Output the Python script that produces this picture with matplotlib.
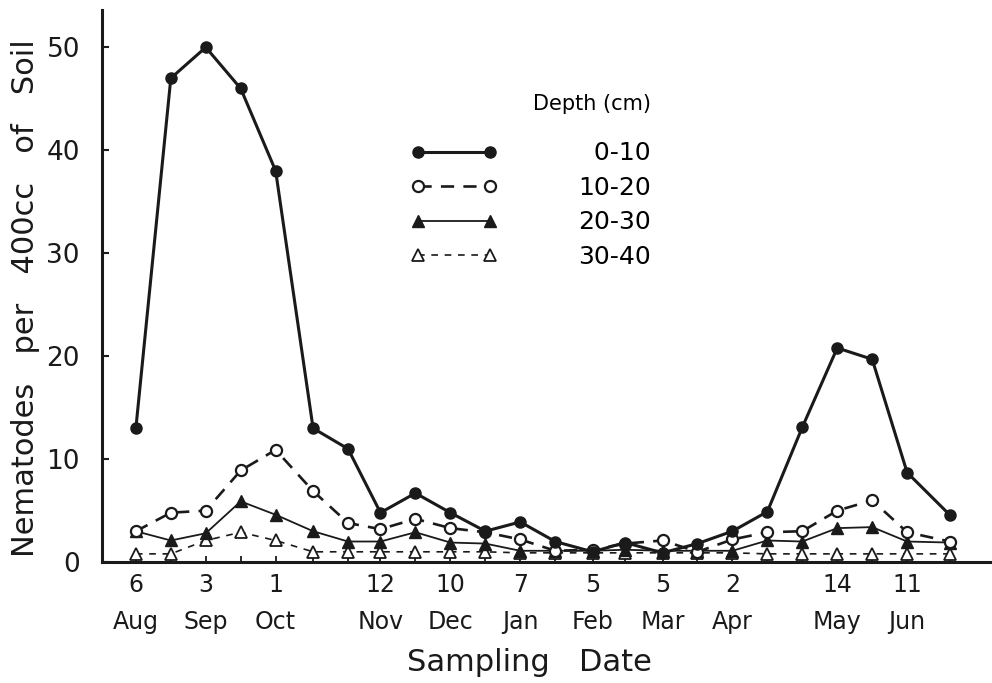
import matplotlib
matplotlib.use("Agg")
import matplotlib.pyplot as plt

plt.rcParams['font.family'] = ['DejaVu Sans']

# days after 6 Aug for each sampling date
sample_days = [0, 14, 28, 42, 56, 71, 85, 98, 112, 126, 140, 154, 168, 183,
               196, 211, 225, 239, 253, 267, 281, 295, 309, 326]
depth_0_10 = [13, 47, 50, 46, 38, 13, 11, 4.8, 6.7, 4.8, 3.0, 3.9, 2.0, 1.0,
              1.9, 0.9, 1.8, 3.0, 4.9, 13.1, 20.8, 19.7, 8.7, 4.6]
depth_10_20 = [3.0, 4.8, 5.0, 8.9, 10.9, 6.9, 3.8, 3.2, 4.2, 3.3, 2.9, 2.2, 1.1, 1.2,
               1.8, 2.1, 1.0, 2.2, 2.9, 3.0, 5.0, 6.0, 2.9, 2.0]
depth_20_30 = [3.0, 2.1, 2.8, 5.9, 4.6, 3.0, 2.0, 2.0, 2.9, 1.9, 1.8, 1.1, 1.1, 1.1,
               1.2, 1.1, 1.1, 1.1, 2.1, 2.0, 3.3, 3.4, 2.0, 1.9]
depth_30_40 = [0.8, 0.8, 2.1, 2.9, 2.1, 1.0, 1.0, 1.0, 1.0, 1.0, 1.0, 0.9, 0.9, 0.9,
               0.9, 0.9, 0.9, 0.9, 0.8, 0.8, 0.8, 0.8, 0.8, 0.8]

label_days = [0, 28, 56, 98, 126, 154, 183, 211, 239, 281, 309]
label_texts = ["6\nAug", "3\nSep", "1\nOct", "12\nNov", "10\nDec", "7\nJan",
               "5\nFeb", "5\nMar", "2\nApr", "14\nMay", "11\nJun"]
y_ticks = [0, 10, 20, 30, 40, 50]
legend_labels = ["\u20070-10", "10-20", "20-30", "30-40"]

fig = plt.figure(figsize=(9.92, 6.83), dpi=100)
ax = fig.add_axes([0.103, 0.177, 0.897, 0.808])

ax.plot(sample_days, depth_0_10, color='#1a1a1a', lw=2.2, ls='-', marker='o',
        ms=8, mfc='#1a1a1a', mec='#1a1a1a', label=legend_labels[0], zorder=5)
ax.plot(sample_days, depth_10_20, color='#1a1a1a', lw=1.9, ls=(0, (5, 3.5)), marker='o',
        ms=8, mfc='white', mec='#1a1a1a', mew=1.6, label=legend_labels[1], zorder=4)
ax.plot(sample_days, depth_20_30, color='#1a1a1a', lw=1.3, ls='-', marker='^',
        ms=9, mfc='#1a1a1a', mec='#1a1a1a', label=legend_labels[2], zorder=3)
ax.plot(sample_days, depth_30_40, color='#1a1a1a', lw=1.2, ls=(0, (4, 4)), marker='^',
        ms=9, mfc='white', mec='#1a1a1a', mew=1.3, label=legend_labels[3], zorder=2)

ax.set_xlim(-13.5, 343)
ax.set_ylim(0, 53.6)

ax.spines['top'].set_visible(False)
ax.spines['right'].set_visible(False)
for s in ('left', 'bottom'):
    ax.spines[s].set_linewidth(2.2)
    ax.spines[s].set_color('#1a1a1a')

ax.set_yticks(y_ticks)
ax.set_yticklabels([str(v) for v in y_ticks])
ax.tick_params(axis='y', direction='in', length=5, width=1.5, pad=16,
               labelsize=19, colors='#1a1a1a')

ax.set_xticks(sample_days, minor=True)
ax.set_xticks(label_days)
ax.set_xticklabels(label_texts, linespacing=1.65)
ax.tick_params(axis='x', which='both', direction='in', length=4, width=1.3,
               pad=8, labelsize=17, colors='#1a1a1a')

ax.set_xlabel("Sampling   Date", fontsize=22, color='#1a1a1a')
ax.xaxis.set_label_coords(0.48, -0.155)
ax.set_ylabel("Nematodes   per   400cc   of   Soil", fontsize=22,
              color='#1a1a1a')
ax.yaxis.set_label_coords(-0.07, 0.478)

leg = ax.legend(title="Depth (cm)", loc='upper left', bbox_to_anchor=(0.335, 0.867),
                frameon=False, fontsize=18, title_fontsize=15, handlelength=3.5,
                handletextpad=3.2, labelspacing=0.42, markerfirst=True,
                numpoints=2, borderaxespad=0)
leg._legend_box.align = "right"
leg._legend_box.sep = 20

fig.savefig("out.png", dpi=100)
